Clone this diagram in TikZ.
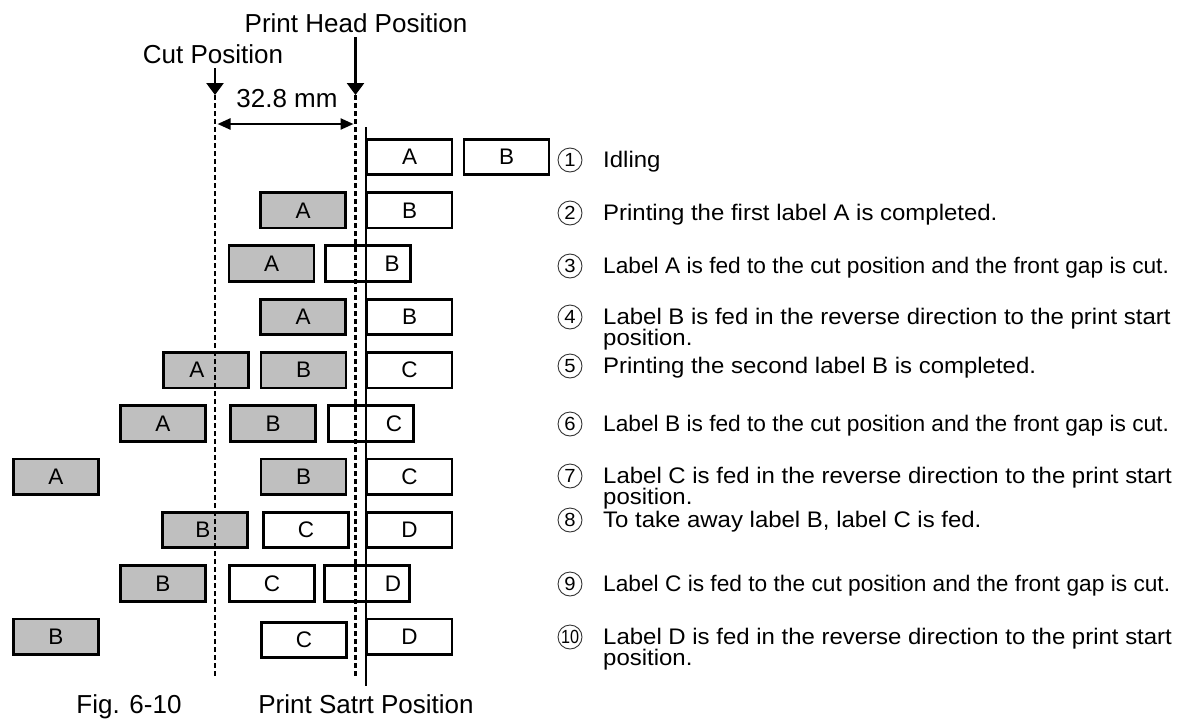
\documentclass[tikz,border=0pt]{standalone}
\usepackage{fontspec}
\setmainfont{Liberation Sans}
\newfontfamily\descfont[FakeStretch=1.065]{Liberation Sans}
\usetikzlibrary{arrows.meta}
\newcommand{\twoline}[2]{\vtop{\baselineskip=18.5pt\hbox{#1}\hbox{#2}}}
\begin{document}
\begin{tikzpicture}[x=1pt,y=-1pt,
  wbox/.style={draw=black, fill=white, line width=2.8pt, minimum width=85pt, minimum height=35.5pt, inner sep=0pt, font=\fontsize{22.5}{22.5}\selectfont},
  gbox/.style={wbox, fill=black!25},
  boxtxt/.style={inner sep=0pt, font=\fontsize{22.5}{22.5}\selectfont},
  cutline/.style={line width=2.8pt, dash pattern=on 4.5pt off 3.5pt},
  headline/.style={line width=2.8pt},
  downarrow/.style={line width=2.6pt, -{Triangle[length=12pt,width=17pt]}},
  dimarrow/.style={line width=2.4pt, {Triangle[length=13pt,width=11pt]}-{Triangle[length=13pt,width=11pt]}},
  toplabel/.style={inner sep=0pt, anchor=base, font=\fontsize{26}{26}\selectfont},
  num/.style={circle, draw=black!80, line width=0.9pt, minimum size=24pt, inner sep=0pt, font=\descfont\fontsize{19}{19}\selectfont},
  desc/.style={inner sep=0pt, anchor=base west, font=\descfont\fontsize{22.5}{19}\selectfont}
]
\useasboundingbox (0,0) rectangle (1190,720);

% ---- boxes ----
% row 1
\node[wbox] (r1a) at (409.5,157) {A};
\node[wbox] (r1b) at (506.5,157) {B};
% row 2
\node[gbox] (r2a) at (303,210.3) {A};
\node[wbox] (r2b) at (409.5,210.3) {B};
% row 3
\node[gbox] (r3a) at (271.5,263.6) {A};
\node[wbox] (r3b) at (368,263.6) {};
\node[boxtxt] (r3bt) at (392,263.6) {B};
% row 4
\node[gbox] (r4a) at (303,316.9) {A};
\node[wbox] (r4b) at (409.5,316.9) {B};
% row 5
\node[gbox] (r5a) at (206,370.2) {};
\node[boxtxt] (r5at) at (197,370.2) {A};
\node[gbox] (r5b) at (303.5,370.2) {B};
\node[wbox] (r5c) at (409.5,370.2) {C};
% row 6
\node[gbox] (r6a) at (163,423.5) {A};
\node[gbox] (r6b) at (273,423.5) {B};
\node[wbox] (r6c) at (371,423.5) {};
\node[boxtxt] (r6ct) at (394,423.5) {C};
% row 7
\node[gbox] (r7a) at (56,476.8) {A};
\node[gbox] (r7b) at (303.5,476.8) {B};
\node[wbox] (r7c) at (409.5,476.8) {C};
% row 8
\node[gbox] (r8b) at (205,530.1) {};
\node[boxtxt] (r8bt) at (203,530.1) {B};
\node[wbox] (r8c) at (306,530.1) {C};
\node[wbox] (r8d) at (409.5,530.1) {D};
% row 9
\node[gbox] (r9b) at (163,583.4) {B};
\node[wbox] (r9c) at (272,583.4) {C};
\node[wbox] (r9d) at (367,583.4) {};
\node[boxtxt] (r9dt) at (393,583.4) {D};
% row 10
\node[gbox] (r10b) at (56,636.7) {B};
\node[wbox] (r10c) at (304,640) {C};
\node[wbox] (r10d) at (409.5,636.7) {D};

% ---- reference lines ----
\coordinate (cutT) at (215,95);
\coordinate (cutB) at (215,679);
\coordinate (headT) at (355.5,95);
\coordinate (headB) at (355.5,679);
\coordinate (startT) at (366,127);
\coordinate (startB) at (366,686);
\draw[cutline] (cutT) -- (cutB);
\draw[cutline] (headT) -- (headB);
\draw[headline] (startT) -- (startB);

% ---- top arrows and labels ----
\node[toplabel] (headlbl) at (356,32) {Print Head Position};
\node[toplabel] (cutlbl) at (213,63) {Cut Position};
\node[toplabel] (dimlbl) at (287,107) {32.8 mm};
\coordinate (cutA) at (215,68);
\coordinate (headA) at (355.5,37);
\draw[downarrow] (cutA) -- (cutT);
\draw[downarrow] (headA) -- (headT);
\coordinate (dimL) at (217.5,124);
\coordinate (dimR) at (353.5,124);
\draw[dimarrow] (dimL) -- (dimR);

% ---- bottom labels ----
\node[toplabel] (figlbl) at (129,713) {Fig. 6-10};
\node[toplabel] (startlbl) at (366,713) {Print Satrt Position};

% ---- step descriptions ----
\node[num] (n1) at (570,160) {1};
\node[desc] (d1) at (603,167) {Idling};
\node[num] (n2) at (570,213) {2};
\node[desc] (d2) at (603,220) {Printing the first label A is completed.};
\node[num] (n3) at (570,266) {3};
\node[desc] (d3) at (603,273) {\scalebox{0.948}[1]{Label A is fed to the cut position and the front gap is cut.}};
\node[num] (n4) at (570,317) {4};
\node[desc] (d4) at (603,324) {\twoline{Label B is fed in the reverse direction to the print start}{position.}};
\node[num] (n5) at (570,366) {5};
\node[desc] (d5) at (603,373) {Printing the second label B is completed.};
\node[num] (n6) at (570,424) {6};
\node[desc] (d6) at (603,431) {\scalebox{0.948}[1]{Label B is fed to the cut position and the front gap is cut.}};
\node[num] (n7) at (570,476) {7};
\node[desc] (d7) at (603,483) {\twoline{Label C is fed in the reverse direction to the print start}{position.}};
\node[num] (n8) at (570,520) {8};
\node[desc] (d8) at (603,527) {To take away label B, label C is fed.};
\node[num] (n9) at (570,584) {9};
\node[desc] (d9) at (603,591) {\scalebox{0.948}[1]{Label C is fed to the cut position and the front gap is cut.}};
\node[num] (n10) at (570,637) {\scalebox{0.8}[1]{10}};
\node[desc] (d10) at (603,644) {\twoline{Label D is fed in the reverse direction to the print start}{position.}};
\end{tikzpicture}
\end{document}
